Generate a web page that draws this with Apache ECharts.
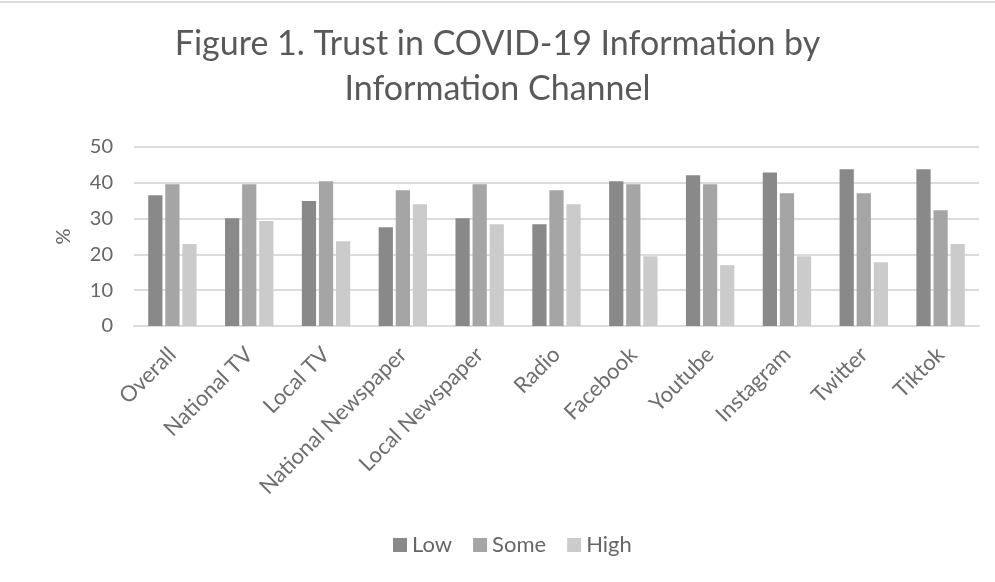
<!DOCTYPE html>
<html><head><meta charset="utf-8">
<script src="https://cdn.jsdelivr.net/npm/echarts@6/dist/echarts.min.js"></script>
<style>html,body{margin:0;padding:0;background:#fff}#c{width:995px;height:582px}</style>
</head><body><div id="c"></div>
<script>
const categories = ["Overall","National TV","Local TV","National Newspaper","Local Newspaper","Radio","Facebook","Youtube","Instagram","Twitter","Tiktok"];
const lowValues  = [36.5, 30.1, 34.9, 27.6, 30.1, 28.4, 40.4, 42.1, 42.9, 43.8, 43.8];
const someValues = [39.6, 39.6, 40.4, 37.9, 39.6, 37.9, 39.6, 39.6, 37.1, 37.1, 32.3];
const highValues = [22.9, 29.3, 23.7, 34.0, 28.4, 34.0, 19.5, 17.0, 19.5, 17.8, 22.9];
const seriesNames = ["Low","Some","High"];
const yTicks = [0, 10, 20, 30, 40, 50];

const font = "Lato, 'Open Sans', sans-serif";
const textColor = '#666666';
const chart = echarts.init(document.getElementById('c'));
chart.setOption({
  animation: false,
  color: ['#898989', '#a5a5a5', '#cbcbcb'],
  graphic: [{type:'line', shape:{x1:0,y1:2,x2:995,y2:2}, style:{stroke:'#dcdcdc', lineWidth:2}}],
  title: {
    text: "Figure 1. Trust in COVID-19 Information by\nInformation Channel",
    left: 'center', top: 17,
    textStyle: {fontFamily: font, fontSize: 34, fontWeight: 'normal', color: '#595959', lineHeight: 45}
  },
  legend: {
    data: seriesNames, bottom: 21, left: 388,
    itemWidth: 14, itemHeight: 14, itemGap: 21,
    icon: 'rect',
    textStyle: {fontFamily: font, fontSize: 22, color: textColor}
  },
  grid: {left: 134, right: 16, top: 147, bottom: 256},
  xAxis: {
    type: 'category', data: categories,
    axisLine: {lineStyle: {color: '#dcdcdc', width: 2}},
    axisTick: {show: false},
    axisLabel: {rotate: 45, interval: 0, fontFamily: font, fontSize: 22, color: '#6e6e6e', margin: 25}
  },
  yAxis: {
    type: 'value', min: yTicks[0], max: yTicks[yTicks.length-1], interval: 10,
    name: '%', nameLocation: 'middle', nameGap: 60, nameRotate: 90,
    nameTextStyle: {fontFamily: font, fontSize: 20, color: textColor},
    axisLine: {show: false}, axisTick: {show: false},
    axisLabel: {fontFamily: font, fontSize: 20, color: textColor, margin: 21},
    splitLine: {lineStyle: {color: '#dcdcdc', width: 2}}
  },
  series: [
    {name: seriesNames[0], type: 'bar', data: lowValues, barGap: '20%', barCategoryGap: '37%'},
    {name: seriesNames[1], type: 'bar', data: someValues},
    {name: seriesNames[2], type: 'bar', data: highValues}
  ]
});
</script></body></html>
